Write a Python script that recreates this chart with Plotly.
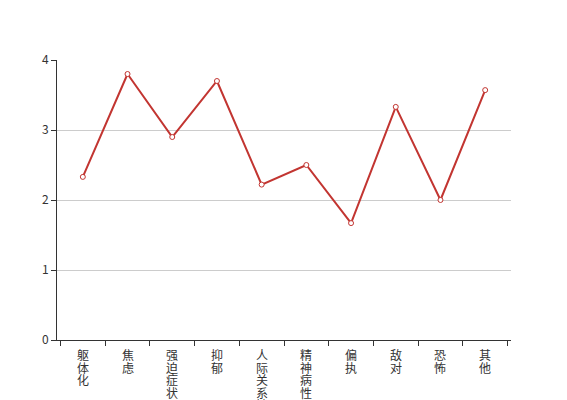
import plotly.graph_objects as go

categories = ["躯体化", "焦虑", "强迫症状", "抑郁", "人际关系敏感", "精神病性", "偏执", "敌对", "恐怖", "其他"]
values = [2.33, 3.80, 2.90, 3.70, 2.22, 2.50, 1.67, 3.33, 2.00, 3.57]
y_ticks = [0, 1, 2, 3, 4]

fig = go.Figure()
fig.add_trace(go.Scatter(
    x=categories, y=values, mode="lines+markers",
    line=dict(color="#c23531", width=2),
    marker=dict(symbol="circle", size=5, color="white",
                line=dict(color="#c23531", width=1)),
    cliponaxis=False,
))

# vertical (one character per line) category labels
annotations = []
for cat in categories:
    for j, ch in enumerate(cat):
        annotations.append(dict(
            x=cat, y=0, xref="x", yref="y", text=ch, showarrow=False,
            xanchor="center", yanchor="top", yshift=-(5 + j * 12.5),
            font=dict(size=12, color="#333"), borderpad=0,
        ))

fig.update_layout(
    width=567, height=400,
    margin=dict(l=49, r=64, t=52, b=68, autoexpand=False),
    paper_bgcolor="white", plot_bgcolor="white",
    showlegend=False,
    font=dict(family="Noto Sans CJK SC, sans-serif", size=12, color="#333"),
    annotations=annotations,
)
fig.update_xaxes(
    type="category", categoryorder="array", categoryarray=categories,
    showticklabels=False, automargin=False,
    tickson="boundaries", ticks="outside", ticklen=5, tickcolor="#333",
    showline=True, linecolor="#333", linewidth=1, showgrid=False,
)
fig.update_yaxes(
    range=[0, 4], tickvals=y_ticks, ticks="outside", ticklen=5, tickcolor="#333",
    showline=True, linecolor="#333", linewidth=1, automargin=False,
    showgrid=True, gridcolor="#ccc", gridwidth=1, zeroline=False,
    tickfont=dict(size=12, color="#333"),
)

fig.write_html("out.html")
